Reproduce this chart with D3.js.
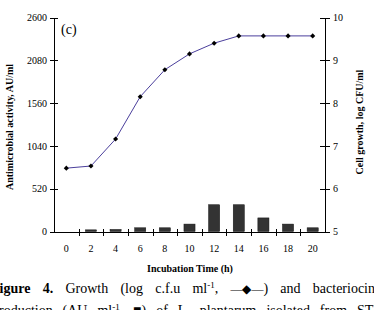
<!DOCTYPE html>
<meta charset="utf-8">
<style>
body { margin: 0; background: #fff; }
svg { display: block; }
text { font-family: "Liberation Serif", "Times New Roman", serif; fill: #000; }
.axis line, .axis path { fill: none; stroke: #000; shape-rendering: crispEdges; }
</style>
<body>
<script src="https://cdnjs.cloudflare.com/ajax/libs/d3/7.8.5/d3.min.js"></script>
<script>

// incubation time (h)
var times = [0, 2, 4, 6, 8, 10, 12, 14, 16, 18, 20];
// cell growth, log CFU/ml
var growth = [6.48, 6.53, 7.16, 8.15, 8.78, 9.15, 9.40, 9.57, 9.57, 9.57, 9.57];
// antimicrobial activity, AU/ml
var activity = [0, 20, 25, 45, 45, 90, 325, 325, 165, 90, 45];

var leftTicks = [0, 520, 1040, 1560, 2080, 2600];
var rightTicks = [5, 6, 7, 8, 9, 10];

var width = 374, height = 310;
var plotLeft = 54, plotRight = 325, plotTop = 17.5, plotBottom = 231.5;
var serif = "'Liberation Serif', 'Times New Roman', serif";

var svg = d3.select("body").append("svg")
    .attr("width", width)
    .attr("height", height)
    .attr("font-family", serif);

var xb = d3.scaleBand().domain(times).range([plotLeft, plotRight]);
var x = d3.scaleBand().domain(times).range([plotLeft, plotRight])
    .paddingInner(0.55).paddingOuter(0.275);
var yL = d3.scaleLinear().domain([0, 2600]).range([plotBottom, plotTop]);
var yR = d3.scaleLinear().domain([5, 10]).range([plotBottom, plotTop]);

// bars
svg.append("g").selectAll("rect")
    .data(times.map(function(t, i) { return {t: t, v: activity[i]}; }).filter(function(d) { return d.v > 0; }))
  .enter().append("rect")
    .attr("x", function(d) { return x(d.t); })
    .attr("width", x.bandwidth())
    .attr("y", function(d) { return yL(d.v); })
    .attr("height", function(d) { return yL(0) - yL(d.v); })
    .attr("fill", "#333")
    .attr("stroke", "#111")
    .attr("stroke-width", 0.5);

// x axis
var xAxis = svg.append("g")
    .attr("class", "axis")
    .attr("transform", "translate(0," + plotBottom + ")")
    .call(d3.axisBottom(xb).tickSize(0).tickSizeOuter(0).tickPadding(13))
    .attr("font-family", serif);

xAxis.selectAll(".tickmark")
    .data(times.slice(1))
  .enter().append("line")
    .attr("x1", function(t) { return Math.round(xb(t)) + 0.5; })
    .attr("x2", function(t) { return Math.round(xb(t)) + 0.5; })
    .attr("y1", -3)
    .attr("y2", 4);

// left axis
svg.append("g")
    .attr("class", "axis")
    .attr("transform", "translate(" + plotLeft + ",0)")
    .call(d3.axisLeft(yL).tickValues(leftTicks).tickFormat(d3.format("d"))
      .tickSize(4).tickSizeOuter(0).tickPadding(3))
    .attr("font-family", serif)
    .call(function(g) { g.selectAll(".tick line").attr("x1", 4); });

// right axis
svg.append("g")
    .attr("class", "axis")
    .attr("transform", "translate(" + plotRight + ",0)")
    .call(d3.axisRight(yR).tickValues(rightTicks).tickFormat(d3.format("d"))
      .tickSize(5).tickSizeOuter(0).tickPadding(3))
    .attr("font-family", serif)
    .call(function(g) { g.selectAll(".tick line").attr("x1", -5); });

// growth line
var pts = times.map(function(t, i) { return [xb(t) + xb.bandwidth() / 2, yR(growth[i])]; });

svg.append("path")
    .datum(pts)
    .attr("fill", "none")
    .attr("stroke", "#4b3f9c")
    .attr("stroke-width", 1)
    .attr("d", d3.line());

svg.append("g").selectAll("path")
    .data(pts)
  .enter().append("path")
    .attr("d", d3.symbol(d3.symbolSquare, 13))
    .attr("transform", function(d) { return "translate(" + d[0] + "," + d[1] + ") rotate(45)"; })
    .attr("fill", "#000");

// labels
svg.append("text")
    .attr("x", 61).attr("y", 34)
    .style("font-size", "14px")
    .text("(c)");

svg.append("text")
    .attr("transform", "translate(13,127) rotate(-90)")
    .attr("text-anchor", "middle")
    .style("font-size", "10px").style("font-weight", "bold")
    .text("Antimicrobial activity, AU/ml");

svg.append("text")
    .attr("transform", "translate(363,122) rotate(-90)")
    .attr("text-anchor", "middle")
    .style("font-size", "10px").style("font-weight", "bold")
    .text("Cell growth, log CFU/ml");

svg.append("text")
    .attr("x", 190).attr("y", 272)
    .attr("text-anchor", "middle")
    .style("font-size", "10px").style("font-weight", "bold")
    .text("Incubation Time (h)");

// caption, justified word by word
var line1 = [
  {t: "Figure", b: true}, {t: "4.", b: true}, {t: "Growth"}, {t: "(log"}, {t: "c.f.u"},
  {t: "ml", sup: "-1", after: ","}, {t: "\u2014\u25C6\u2014", small: true, after: ")"}, {t: "and"}, {t: "bacteriocin"}
];
var line2 = [
  {t: "production"}, {t: "(AU"}, {t: "ml", sup: "-1", after: ","}, {t: "\u25A0)"}, {t: "of"},
  {t: "L."}, {t: "plantarum"}, {t: "isolated"}, {t: "from"}, {t: "STI"}
];

function caption(words, y, x0, x1) {
  var g = svg.append("g").style("font-size", "14px");
  var nodes = words.map(function(w) {
    var tx = g.append("text").attr("y", y);
    tx.append("tspan")
        .style("font-weight", w.b ? "bold" : null)
        .style("font-size", w.small ? "12px" : null)
        .text(w.t);
    if (w.sup) {
      tx.append("tspan").attr("dy", -5).style("font-size", "9px").text(w.sup);
      tx.append("tspan").attr("dy", 5).text(w.after);
    } else if (w.after) {
      tx.append("tspan").text(w.after);
    }
    return tx;
  });
  var widths = nodes.map(function(n) { return n.node().getComputedTextLength(); });
  var gap = (x1 - x0 - d3.sum(widths)) / (words.length - 1);
  var cx = x0;
  nodes.forEach(function(n, i) {
    n.attr("x", cx);
    cx += widths[i] + gap;
  });
}

caption(line1, 293, -9, 375);
caption(line2, 315, -8, 378);

</script>
</body>
